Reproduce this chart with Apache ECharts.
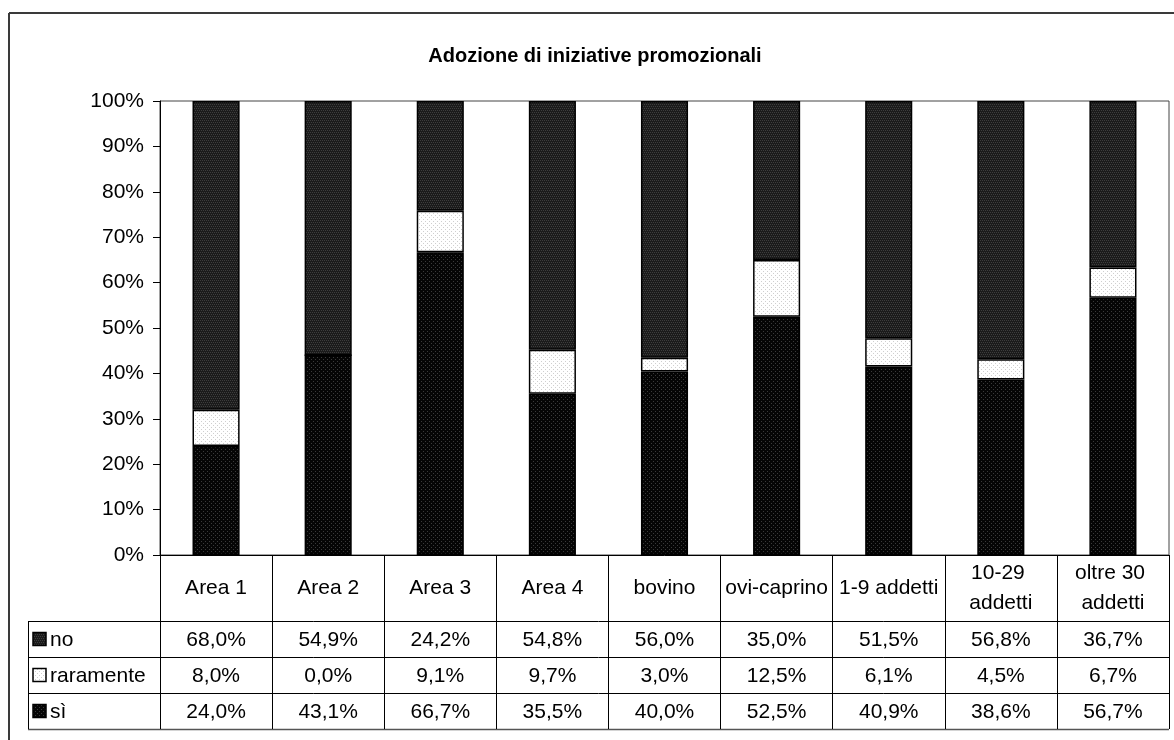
<!DOCTYPE html>
<html>
<head>
<meta charset="utf-8">
<script src="https://cdn.jsdelivr.net/npm/echarts@6/dist/echarts.min.js"></script>
<style>
  html, body { margin: 0; padding: 0; background: #fff; }
  #chart { width: 1174px; height: 740px; }
</style>
</head>
<body>
<div id="chart"></div>
<script>
// Categories and shares (%) per answer
const categories = ['Area 1', 'Area 2', 'Area 3', 'Area 4', 'bovino', 'ovi-caprino', '1-9 addetti', '10-29 addetti', 'oltre 30 addetti'];
const noValues = [68.0, 54.9, 24.2, 54.8, 56.0, 35.0, 51.5, 56.8, 36.7];
const raramenteValues = [8.0, 0.0, 9.1, 9.7, 3.0, 12.5, 6.1, 4.5, 6.7];
const siValues = [24.0, 43.1, 66.7, 35.5, 40.0, 52.5, 40.9, 38.6, 56.7];
const yTicks = [0, 10, 20, 30, 40, 50, 60, 70, 80, 90, 100];
const titleText = 'Adozione di iniziative promozionali';

const FONT = '"Liberation Sans", Arial, sans-serif';
const FS = 21;

// Small repeating textures for the bar fills
function makePattern(bg, dot, cells) {
  const c = document.createElement('canvas');
  c.width = 4; c.height = 4;
  const ctx = c.getContext('2d');
  ctx.fillStyle = bg; ctx.fillRect(0, 0, 4, 4);
  ctx.fillStyle = dot;
  cells.forEach(p => ctx.fillRect(p[0], p[1], 1, 1));
  return { image: c, repeat: 'repeat' };
}
const patNo = makePattern('#1b1b1b', '#3d3d3d', [[0, 0], [2, 0], [1, 2], [3, 2]]);
const patRar = makePattern('#ffffff', '#cfcfcf', [[1, 1], [3, 3]]);
const patSi = makePattern('#050505', '#3a3a3a', [[1, 1], [3, 3]]);

// 100% stacking: each column is scaled to its own total
const totals = categories.map((_, i) => noValues[i] + raramenteValues[i] + siValues[i]);
const share = arr => arr.map((v, i) => v / totals[i] * 100);

const rows = [
  { name: 'no', values: noValues, fill: patNo },
  { name: 'raramente', values: raramenteValues, fill: patRar },
  { name: 'sì', values: siValues, fill: patSi }
];

const chart = echarts.init(document.getElementById('chart'), null, { renderer: 'canvas' });

const barStyle = fill => ({ color: fill, borderColor: '#000', borderWidth: 1.5 });

chart.setOption({
  animation: false,
  backgroundColor: '#fff',
  textStyle: { fontFamily: FONT },
  grid: {
    left: 160, top: 101, right: 5, bottom: 185,
    show: true, borderColor: '#444', borderWidth: 1, backgroundColor: 'transparent'
  },
  xAxis: {
    type: 'category',
    data: categories,
    boundaryGap: true,
    axisLine: { show: true, lineStyle: { color: '#000', width: 1 } },
    axisTick: { show: true, alignWithLabel: false, length: 174, lineStyle: { color: '#000', width: 1 } },
    axisLabel: {
      interval: 0, margin: 33, verticalAlign: 'middle',
      color: '#000', fontSize: FS, fontFamily: FONT, lineHeight: 30,
      width: 106, overflow: 'break'
    }
  },
  yAxis: {
    type: 'value',
    min: yTicks[0], max: yTicks[yTicks.length - 1], interval: yTicks[1] - yTicks[0],
    axisLine: { show: true, lineStyle: { color: '#000', width: 1 } },
    axisTick: { show: true, length: 7, lineStyle: { color: '#000' } },
    splitLine: { show: false },
    axisLabel: { formatter: '{value}%', margin: 16, color: '#000', fontSize: FS, fontFamily: FONT }
  },
  series: [
    { name: 'sì', type: 'bar', stack: 'tot', barWidth: '42%', data: share(siValues), itemStyle: barStyle(patSi) },
    { name: 'raramente', type: 'bar', stack: 'tot', barWidth: '42%', data: share(raramenteValues), itemStyle: barStyle(patRar) },
    { name: 'no', type: 'bar', stack: 'tot', barWidth: '42%', data: share(noValues), itemStyle: barStyle(patNo) }
  ]
});

// Data table under the plot, aligned to the category axis
const x0 = chart.convertToPixel({ xAxisIndex: 0 }, categories[0]);
const x1 = chart.convertToPixel({ xAxisIndex: 0 }, categories[1]);
const colW = x1 - x0;
const tableLeftCol = x0 - colW / 2;            // first category boundary
const tableRight = tableLeftCol + colW * categories.length;
const baseY = chart.convertToPixel({ yAxisIndex: 0 }, 0);
const headerH = 66;
const rowH = 36;
const legendLeft = 28;

const graphics = [];
// frame of the chart object
graphics.push({ type: 'line', shape: { x1: 9, y1: 13, x2: 1174, y2: 13 }, style: { stroke: '#3a3a3a', lineWidth: 2 }, silent: true });
graphics.push({ type: 'line', shape: { x1: 9, y1: 13, x2: 9, y2: 740 }, style: { stroke: '#3a3a3a', lineWidth: 2 }, silent: true });
// title
graphics.push({
  type: 'text', x: 595, y: 56,
  style: { text: titleText, font: 'bold 20px ' + FONT, fill: '#000', align: 'center', verticalAlign: 'middle' }
});

// horizontal rules of the table
for (let r = 0; r <= rows.length; r++) {
  const y = Math.round(baseY + headerH + r * rowH) + 0.5;
  graphics.push({
    type: 'line', shape: { x1: legendLeft, y1: y, x2: tableRight, y2: y },
    style: { stroke: r === rows.length ? '#555' : '#000', lineWidth: r === rows.length ? 1.5 : 1 }, silent: true
  });
}
// left edge of the legend column
graphics.push({
  type: 'line',
  shape: { x1: legendLeft + 0.5, y1: Math.round(baseY + headerH), x2: legendLeft + 0.5, y2: Math.round(baseY + headerH + rows.length * rowH) },
  style: { stroke: '#000', lineWidth: 1 }, silent: true
});

rows.forEach((row, r) => {
  const cy = baseY + headerH + r * rowH + rowH / 2;
  // legend key + series name
  graphics.push({
    type: 'rect', shape: { x: 33, y: cy - 6.5, width: 13, height: 13 },
    style: { fill: row.fill, stroke: '#000', lineWidth: 1.5 }
  });
  graphics.push({
    type: 'text', x: 50, y: cy + 1,
    style: { text: row.name, font: FS + 'px ' + FONT, fill: '#000', align: 'left', verticalAlign: 'middle' }
  });
  // values
  row.values.forEach((v, i) => {
    const cx = chart.convertToPixel({ xAxisIndex: 0 }, categories[i]);
    graphics.push({
      type: 'text', x: cx, y: cy + 1,
      style: { text: v.toFixed(1).replace('.', ',') + '%', font: FS + 'px ' + FONT, fill: '#000', align: 'center', verticalAlign: 'middle' }
    });
  });
});

chart.setOption({ graphic: graphics });
</script>
</body>
</html>
